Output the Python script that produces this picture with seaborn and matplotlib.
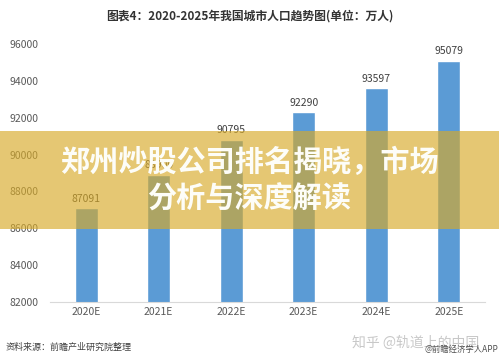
import matplotlib
matplotlib.use('Agg')
import matplotlib.pyplot as plt
import seaborn as sns
import pandas as pd
from matplotlib.patches import Rectangle

years = ['2020E', '2021E', '2022E', '2023E', '2024E', '2025E']
population = [87091, 88900, 90795, 92290, 93597, 95079]
yticks = [82000, 84000, 86000, 88000, 90000, 92000, 94000, 96000]

sns.set_style('white')
plt.rcParams['font.family'] = ['Noto Sans CJK SC', 'DejaVu Sans']

df = pd.DataFrame({'year': years, 'pop': population})

fig = plt.figure(figsize=(4.99, 3.6), dpi=100)
ax = fig.add_axes([0.1, 0.161, 0.872, 0.717])
sns.barplot(data=df, x='year', y='pop', color='#5b9bd5', width=0.32,
            saturation=1, ax=ax)
ax.set_ylim(82000, 96000)
ax.set_yticks(yticks)
ax.set_xlabel('')
ax.set_ylabel('')
ax.tick_params(axis='both', colors='#595959', labelsize=7.5, length=0)
ax.tick_params(axis='y', pad=8)
for s in ['top', 'right', 'left']:
    ax.spines[s].set_visible(False)
ax.spines['bottom'].set_color('#d9d9d9')

for i, v in enumerate(population):
    ax.text(i, v + 250, str(v), ha='center', va='bottom', fontsize=7.5, color='#404040')

fig.text(0.5, 0.955, '图表4：2020-2025年我国城市人口趋势图(单位：万人)', ha='center',
         va='center', fontsize=8.5, fontweight='bold', color='#333333')
fig.text(0.012, 0.035, '资料来源：前瞻产业研究院整理', ha='left', va='center',
         fontsize=6.5, color='#404040')
fig.text(0.705, 0.048, '知乎 @轨道上的中国', ha='left', va='center', fontsize=10,
         color='#c8c8c8')
fig.text(0.998, 0.03, '@前瞻经济学人APP', ha='right', va='center', fontsize=6,
         color='#505050')

# banner overlay
fig.patches.append(Rectangle((0, 1 - 229 / 360), 1, 98 / 360, transform=fig.transFigure,
                             facecolor='#d8aa28', alpha=0.65, edgecolor='none', zorder=5))
fig.text(0.5, 1 - 162 / 360, '郑州炒股公司排名揭晓，市场', ha='center', va='center',
         fontsize=21, fontweight='heavy', color='#fdfdf8', zorder=6)
fig.text(0.5, 1 - 199 / 360, '分析与深度解读', ha='center', va='center',
         fontsize=21, fontweight='heavy', color='#fdfdf8', zorder=6)

fig.savefig('out.png', dpi=100)
